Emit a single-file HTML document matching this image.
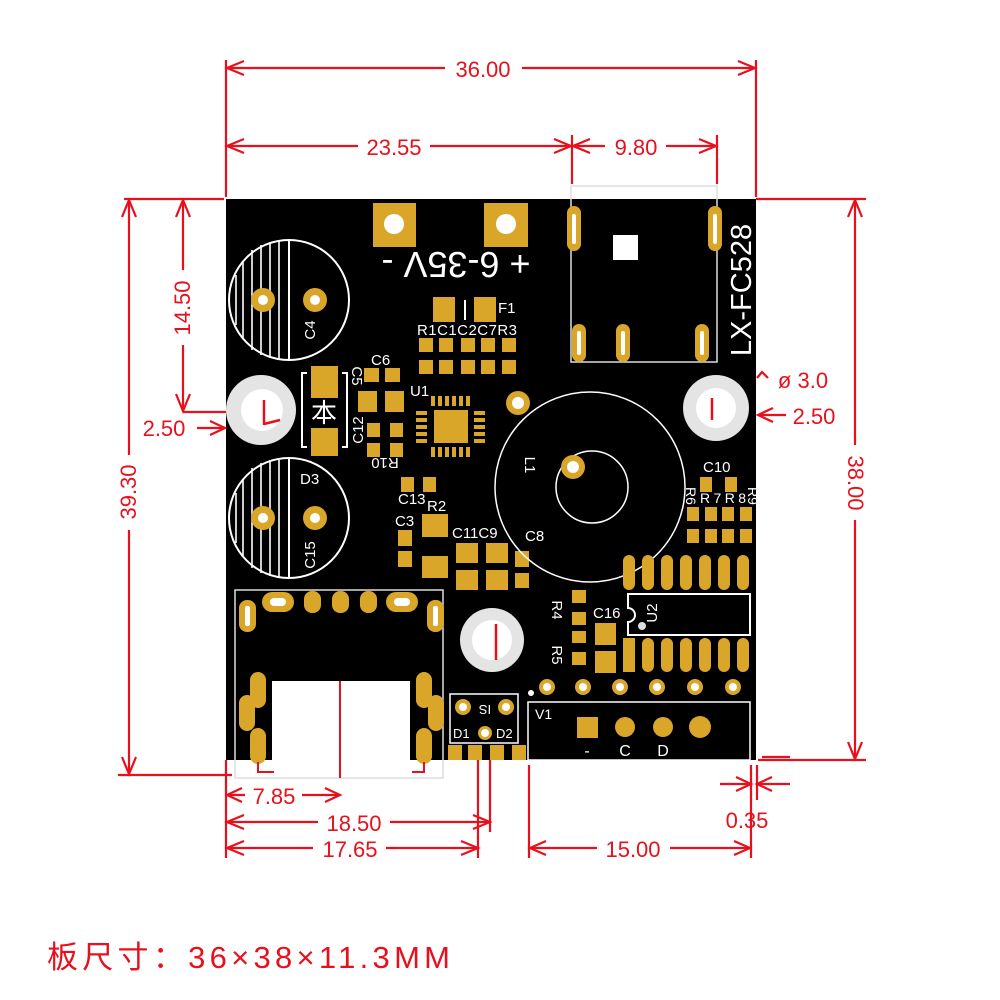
<!DOCTYPE html>
<html><head><meta charset="utf-8"><style>
html,body{margin:0;padding:0;background:#fff;width:1000px;height:1000px;overflow:hidden}
svg{display:block}
.w{fill:#fff;font-family:"Liberation Sans",sans-serif}
.r{fill:#e8101c;font-family:"Liberation Sans",sans-serif}
</style></head><body>
<svg width="1000" height="1000" viewBox="0 0 1000 1000" xmlns="http://www.w3.org/2000/svg">
<!-- board -->
<rect x="226" y="199" width="530" height="561" fill="#000"/>
<rect x="272" y="681" width="138" height="80" fill="#fff"/>
<rect x="235" y="590" width="208" height="188" fill="none" stroke="#ddd" stroke-width="1.5"/>
<line x1="340" y1="681" x2="340" y2="778" stroke="#e8101c" stroke-width="2"/>
<!-- power pads -->
<g fill="#d9a62a"><rect x="373" y="203" width="43" height="44"/><rect x="484" y="203" width="44" height="44"/></g>
<circle cx="394" cy="224" r="10" fill="#fff"/><circle cx="506" cy="224" r="10" fill="#fff"/>
<text class="w" font-size="36" transform="rotate(180 456 265)" x="456" y="278" text-anchor="middle">+ 6-35V -</text>
<!-- C4 / C15 -->
<g fill="none" stroke="#fff" stroke-width="2">
<circle cx="289" cy="300" r="60"/><line x1="289" y1="240" x2="289" y2="360"/>
<circle cx="289" cy="518" r="60"/><line x1="289" y1="458" x2="289" y2="578"/>
</g>
<g stroke="#fff" stroke-width="1.6">
<line x1="243" y1="262" x2="243" y2="338"/><line x1="252" y1="250" x2="252" y2="350"/><line x1="261" y1="245" x2="261" y2="355"/><line x1="270" y1="242" x2="270" y2="358"/><line x1="279" y1="241" x2="279" y2="359"/><line x1="236" y1="275" x2="236" y2="325"/>
<line x1="243" y1="480" x2="243" y2="556"/><line x1="252" y1="468" x2="252" y2="568"/><line x1="261" y1="463" x2="261" y2="573"/><line x1="270" y1="460" x2="270" y2="576"/><line x1="279" y1="459" x2="279" y2="577"/><line x1="236" y1="493" x2="236" y2="543"/>
</g>
<g fill="#d9a62a"><circle cx="263" cy="300" r="12"/><circle cx="315" cy="300" r="12"/><circle cx="263" cy="518" r="12"/><circle cx="315" cy="518" r="12"/></g>
<g fill="#fff"><circle cx="263" cy="300" r="5"/><circle cx="315" cy="300" r="5"/><circle cx="263" cy="518" r="5"/><circle cx="315" cy="518" r="5"/></g>
<text class="w" font-size="15" transform="rotate(-90 310 330)" x="310" y="335" text-anchor="middle">C4</text>
<text class="w" font-size="15" x="300" y="484">D3</text>
<text class="w" font-size="15" transform="rotate(-90 310 555)" x="310" y="560" text-anchor="middle">C15</text>
<!-- mount holes -->
<g fill="#e4e4e4"><circle cx="261" cy="410" r="35"/><circle cx="716" cy="408" r="33"/><circle cx="492" cy="640" r="32"/></g>
<g fill="#fff"><circle cx="262" cy="410" r="21"/><circle cx="716" cy="408" r="20"/><circle cx="492" cy="640" r="20"/></g>
<g stroke="#e8101c" stroke-width="2.5" fill="none"><line x1="264" y1="400" x2="264" y2="425"/><line x1="264" y1="424" x2="280" y2="420"/><line x1="712" y1="398" x2="712" y2="420"/><line x1="496" y1="624" x2="496" y2="660"/></g>
<!-- diode -->
<g fill="#d9a62a"><rect x="311" y="366" width="27" height="32"/><rect x="311" y="428" width="27" height="28"/></g>
<g stroke="#fff" stroke-width="2" fill="none"><polyline points="307,373 302,373 302,447 307,447"/><polyline points="342,373 347,373 347,447 342,447"/></g>
<text class="w" font-size="26" x="324" y="422" text-anchor="middle" font-family="'Noto Sans CJK SC',sans-serif">本</text>
<!-- small parts -->
<g fill="#d9a62a">
<rect x="433" y="297" width="22" height="25"/><rect x="474" y="297" width="22" height="25"/>
<rect x="419" y="338" width="14" height="14"/><rect x="439" y="338" width="14" height="14"/><rect x="461" y="338" width="14" height="14"/><rect x="481" y="338" width="14" height="14"/><rect x="502" y="338" width="14" height="14"/>
<rect x="419" y="360" width="14" height="14"/><rect x="439" y="360" width="14" height="14"/><rect x="461" y="360" width="14" height="14"/><rect x="481" y="360" width="14" height="14"/><rect x="502" y="360" width="14" height="14"/>
<rect x="364" y="368" width="15" height="14"/><rect x="385" y="368" width="15" height="14"/>
<rect x="358" y="391" width="19" height="21"/><rect x="385" y="391" width="19" height="21"/>
<rect x="367" y="423" width="13" height="14"/><rect x="390" y="423" width="13" height="14"/>
<rect x="367" y="443" width="13" height="14"/><rect x="390" y="443" width="13" height="14"/>
<rect x="401" y="477" width="13" height="15"/><rect x="423" y="477" width="13" height="15"/>
<rect x="422" y="514" width="26" height="23"/><rect x="422" y="556" width="26" height="22"/>
<rect x="398" y="530" width="14" height="16"/><rect x="398" y="551" width="14" height="16"/>
<rect x="456" y="543" width="22" height="20"/><rect x="456" y="570" width="22" height="20"/>
<rect x="486" y="543" width="22" height="20"/><rect x="486" y="570" width="22" height="20"/>
<rect x="515" y="551" width="14" height="16"/><rect x="515" y="573" width="14" height="15"/>
<rect x="434" y="410" width="34" height="33"/>
</g>
<line x1="465" y1="300" x2="465" y2="320" stroke="#fff" stroke-width="2"/>
<g fill="#d9a62a">
<rect x="431" y="396" width="4" height="10"/><rect x="438" y="396" width="4" height="10"/><rect x="445" y="396" width="4" height="10"/><rect x="452" y="396" width="4" height="10"/><rect x="459" y="396" width="4" height="10"/><rect x="466" y="396" width="4" height="10"/>
<rect x="431" y="447" width="4" height="10"/><rect x="438" y="447" width="4" height="10"/><rect x="445" y="447" width="4" height="10"/><rect x="452" y="447" width="4" height="10"/><rect x="459" y="447" width="4" height="10"/><rect x="466" y="447" width="4" height="10"/>
<rect x="416" y="411" width="11" height="4"/><rect x="416" y="418" width="11" height="4"/><rect x="416" y="425" width="11" height="4"/><rect x="416" y="432" width="11" height="4"/><rect x="416" y="439" width="11" height="4"/>
<rect x="474" y="411" width="11" height="4"/><rect x="474" y="418" width="11" height="4"/><rect x="474" y="425" width="11" height="4"/><rect x="474" y="432" width="11" height="4"/><rect x="474" y="439" width="11" height="4"/>
</g>
<text class="w" font-size="15" x="498" y="313">F1</text>
<text class="w" font-size="15" x="417" y="335" textLength="100">R1C1C2C7R3</text>
<text class="w" font-size="15" x="371" y="365">C6</text>
<text class="w" font-size="15" transform="rotate(90 357 376)" x="357" y="381" text-anchor="middle">C5</text>
<text class="w" font-size="15" transform="rotate(-90 358 430)" x="358" y="435" text-anchor="middle">C12</text>
<text class="w" font-size="15" transform="rotate(180 385 463)" x="385" y="468" text-anchor="middle">R10</text>
<text class="w" font-size="15" x="410" y="396">U1</text>
<text class="w" font-size="15" x="398" y="504">C13</text>
<text class="w" font-size="15" x="427" y="511">R2</text>
<text class="w" font-size="15" x="395" y="526">C3</text>
<text class="w" font-size="15" x="452" y="538">C11C9</text>
<text class="w" font-size="15" x="525" y="541">C8</text>
<!-- USB -->
<rect x="571" y="186" width="146" height="176" fill="none" stroke="#ddd" stroke-width="1.5"/>
<g fill="#d9a62a"><rect x="567" y="206" width="14" height="45" rx="7"/><rect x="708" y="206" width="14" height="45" rx="7"/><rect x="572" y="324" width="14" height="38" rx="7"/><rect x="616" y="324" width="14" height="38" rx="7"/><rect x="695" y="324" width="14" height="38" rx="7"/></g>
<g fill="#fff"><rect x="572" y="214" width="4" height="30" rx="2"/><rect x="713" y="214" width="4" height="30" rx="2"/><rect x="577" y="331" width="4" height="24" rx="2"/><rect x="621" y="331" width="4" height="24" rx="2"/><rect x="700" y="331" width="4" height="24" rx="2"/><rect x="613" y="235" width="25" height="25"/></g>
<text class="w" font-size="29" transform="rotate(-90 741 290)" x="741" y="300" text-anchor="middle">LX-FC528</text>
<!-- L1 -->
<g fill="none" stroke="#fff" stroke-width="1.5"><circle cx="590" cy="487" r="95"/><circle cx="592" cy="487" r="36"/></g>
<circle cx="573" cy="467" r="12" fill="#d9a62a"/><circle cx="573" cy="467" r="6" fill="#fff"/>
<circle cx="518" cy="403" r="12" fill="#d9a62a"/><circle cx="518" cy="403" r="6" fill="#fff"/>
<text class="w" font-size="15" transform="rotate(90 530 465)" x="530" y="470" text-anchor="middle">L1</text>
<!-- R6-R9 -->
<g fill="#d9a62a">
<rect x="700" y="477" width="12" height="15"/><rect x="725" y="477" width="12" height="15"/>
<rect x="687" y="507" width="12" height="14"/><rect x="705" y="507" width="12" height="14"/><rect x="722" y="507" width="12" height="14"/><rect x="740" y="507" width="12" height="14"/>
<rect x="687" y="529" width="12" height="14"/><rect x="705" y="529" width="12" height="14"/><rect x="722" y="529" width="12" height="14"/><rect x="740" y="529" width="12" height="14"/>
</g>
<text class="w" font-size="15" x="703" y="472">C10</text>
<text class="w" font-size="14" x="700" y="503" textLength="46">R7R8</text>
<text class="w" font-size="14" transform="rotate(90 690 496)" x="690" y="500" text-anchor="middle">R6</text>
<text class="w" font-size="14" transform="rotate(90 752 496)" x="752" y="500" text-anchor="middle">R9</text>
<!-- U2 -->
<g fill="#d9a62a">
<rect x="623" y="555" width="12" height="35" rx="6"/><rect x="642" y="555" width="12" height="35" rx="6"/><rect x="661" y="555" width="12" height="35" rx="6"/><rect x="680" y="555" width="12" height="35" rx="6"/><rect x="699" y="555" width="12" height="35" rx="6"/><rect x="718" y="555" width="12" height="35" rx="6"/><rect x="737" y="555" width="12" height="35" rx="6"/>
<rect x="623" y="638" width="12" height="34"/><rect x="642" y="638" width="12" height="34" rx="6"/><rect x="661" y="638" width="12" height="34" rx="6"/><rect x="680" y="638" width="12" height="34" rx="6"/><rect x="699" y="638" width="12" height="34" rx="6"/><rect x="718" y="638" width="12" height="34" rx="6"/><rect x="737" y="638" width="12" height="34" rx="6"/>
<rect x="572" y="590" width="14" height="13"/><rect x="572" y="612" width="14" height="13"/><rect x="572" y="631" width="14" height="12"/><rect x="572" y="652" width="14" height="13"/>
<rect x="595" y="623" width="21" height="22"/><rect x="595" y="651" width="21" height="22"/>
</g>
<path d="M628,594 H750 V635 H628 V622 A6,6 0 0 0 628,608 Z" fill="none" stroke="#fff" stroke-width="2"/>
<circle cx="642" cy="626" r="4" fill="#ddd"/>
<text class="w" font-size="15" transform="rotate(-90 652 613)" x="652" y="618" text-anchor="middle">U2</text>
<text class="w" font-size="15" x="593" y="618">C16</text>
<text class="w" font-size="15" transform="rotate(90 557 610)" x="557" y="615" text-anchor="middle">R4</text>
<text class="w" font-size="15" transform="rotate(90 557 655)" x="557" y="660" text-anchor="middle">R5</text>
<!-- bottom row -->
<g fill="#d9a62a"><circle cx="547" cy="687" r="8"/><circle cx="583" cy="687" r="8"/><circle cx="620" cy="687" r="8"/><circle cx="657" cy="687" r="8"/><circle cx="695" cy="687" r="8"/><circle cx="733" cy="687" r="8"/></g>
<g fill="#fff"><circle cx="547" cy="687" r="4"/><circle cx="583" cy="687" r="4"/><circle cx="620" cy="687" r="4"/><circle cx="657" cy="687" r="4"/><circle cx="695" cy="687" r="4"/><circle cx="733" cy="687" r="4"/><circle cx="531" cy="693" r="3"/></g>
<rect x="528" y="702" width="222" height="58" fill="none" stroke="#fff" stroke-width="1.5"/>
<rect x="577" y="717" width="21" height="21" fill="#d9a62a"/>
<g fill="#d9a62a"><circle cx="625" cy="727" r="10"/><circle cx="663" cy="727" r="10"/><circle cx="700" cy="727" r="11"/></g>
<text class="w" font-size="14" x="535" y="719">V1</text>
<text class="w" font-size="16" x="587" y="756" text-anchor="middle">-</text>
<text class="w" font-size="16" x="625" y="756" text-anchor="middle">C</text>
<text class="w" font-size="16" x="663" y="756" text-anchor="middle">D</text>
<!-- SI box -->
<rect x="450" y="694" width="68" height="49" fill="none" stroke="#fff" stroke-width="1.5"/>
<g fill="#d9a62a"><circle cx="463" cy="707" r="8"/><circle cx="506" cy="707" r="8"/><circle cx="485" cy="733" r="7"/>
<rect x="448" y="745" width="14" height="15"/><rect x="468" y="745" width="14" height="15"/><rect x="490" y="745" width="14" height="15"/><rect x="512" y="745" width="14" height="15"/></g>
<g fill="#fff"><circle cx="463" cy="707" r="4"/><circle cx="506" cy="707" r="4"/><circle cx="485" cy="733" r="4"/></g>
<text class="w" font-size="13" transform="rotate(180 485 710)" x="485" y="715" text-anchor="middle">IS</text>
<text class="w" font-size="13" x="453" y="738">D1</text>
<text class="w" font-size="13" x="496" y="738">D2</text>
<!-- connector pads -->
<g fill="#d9a62a">
<rect x="262" y="592" width="32" height="20" rx="10"/><rect x="304" y="591" width="17" height="22" rx="8"/><rect x="332" y="591" width="17" height="22" rx="8"/><rect x="360" y="591" width="17" height="22" rx="8"/><rect x="386" y="592" width="32" height="20" rx="10"/>
<rect x="239" y="600" width="17" height="32" rx="8"/><rect x="427" y="600" width="17" height="32" rx="8"/>
<rect x="250" y="672" width="16" height="36" rx="8"/><rect x="239" y="695" width="16" height="36" rx="8"/><rect x="250" y="728" width="16" height="36" rx="8"/>
<rect x="416" y="672" width="16" height="36" rx="8"/><rect x="428" y="695" width="16" height="36" rx="8"/><rect x="416" y="728" width="16" height="36" rx="8"/>
</g>
<g fill="#fff"><rect x="270" y="598" width="16" height="8" rx="4"/><rect x="394" y="598" width="16" height="8" rx="4"/><rect x="245" y="606" width="5" height="20" rx="2"/><rect x="433" y="606" width="5" height="20" rx="2"/></g>
<g stroke="#e8101c" stroke-width="2" fill="none"><polyline points="258,762 258,772 274,772"/><polyline points="412,772 424,772 424,762"/></g>
<!-- DIMENSIONS -->
<g stroke="#e8101c" stroke-width="2.2" fill="none">
<line x1="226" y1="60" x2="226" y2="197"/><line x1="756" y1="60" x2="756" y2="197"/>
<line x1="226" y1="68" x2="445" y2="68"/><line x1="522" y1="68" x2="756" y2="68"/>
<polyline points="244,61 227,68 244,75"/><polyline points="738,61 755,68 738,75"/>
<line x1="226" y1="146" x2="358" y2="146"/><line x1="430" y1="146" x2="572" y2="146"/>
<polyline points="244,139 227,146 244,153"/><polyline points="554,139 571,146 554,153"/>
<line x1="572" y1="135" x2="572" y2="184"/><line x1="717" y1="135" x2="717" y2="184"/>
<line x1="572" y1="146" x2="605" y2="146"/><line x1="666" y1="146" x2="717" y2="146"/>
<polyline points="590,139 573,146 590,153"/><polyline points="699,139 716,146 699,153"/>
<line x1="124" y1="199" x2="224" y2="199"/><line x1="756" y1="199" x2="866" y2="199"/>
<line x1="129" y1="199" x2="129" y2="455"/><line x1="129" y1="530" x2="129" y2="775"/>
<polyline points="122,217 129,200 136,217"/><polyline points="122,757 129,774 136,757"/>
<line x1="118" y1="775" x2="232" y2="775"/>
<line x1="183" y1="199" x2="183" y2="270"/><line x1="183" y1="345" x2="183" y2="412"/>
<polyline points="176,217 183,200 190,217"/><polyline points="176,394 183,411 190,394"/>
<line x1="183" y1="412" x2="226" y2="412"/>
<line x1="197" y1="428" x2="224" y2="428"/><polyline points="210,421 225,428 210,435"/>
<line x1="855" y1="199" x2="855" y2="445"/><line x1="855" y1="520" x2="855" y2="760"/>
<polyline points="848,217 855,200 862,217"/><polyline points="848,742 855,759 862,742"/>
<line x1="758" y1="760" x2="866" y2="760"/>
<line x1="758" y1="415" x2="786" y2="415"/><polyline points="773,408 758,415 773,422"/>
<polyline points="757,378 762,372 768,378"/>
<line x1="226" y1="760" x2="226" y2="858"/>
<line x1="226" y1="795" x2="245" y2="795"/><line x1="302" y1="795" x2="340" y2="795"/>
<polyline points="242,788 227,795 242,802"/><polyline points="325,788 340,795 325,802"/>
<line x1="226" y1="822" x2="318" y2="822"/><line x1="390" y1="822" x2="490" y2="822"/>
<polyline points="244,815 227,822 244,829"/><polyline points="473,815 490,822 473,829"/>
<line x1="226" y1="848" x2="313" y2="848"/><line x1="386" y1="848" x2="478" y2="848"/>
<polyline points="244,841 227,848 244,855"/><polyline points="461,841 478,848 461,855"/>
<line x1="478" y1="760" x2="478" y2="858"/><line x1="490" y1="760" x2="490" y2="832"/>
<line x1="529" y1="765" x2="529" y2="858"/><line x1="751" y1="765" x2="751" y2="858"/>
<line x1="529" y1="848" x2="597" y2="848"/><line x1="670" y1="848" x2="751" y2="848"/>
<polyline points="546,841 530,848 546,855"/><polyline points="734,841 750,848 734,855"/>
<line x1="757" y1="765" x2="757" y2="800"/>
<line x1="720" y1="784" x2="751" y2="784"/><polyline points="736,777 751,784 736,791"/>
<line x1="757" y1="784" x2="790" y2="784"/><polyline points="772,777 757,784 772,791"/>
<line x1="762" y1="757" x2="790" y2="757"/>
</g>
<g class="r" font-size="22">
<text x="483" y="77" text-anchor="middle" fill="#e8101c">36.00</text>
<text x="394" y="155" text-anchor="middle" fill="#e8101c">23.55</text>
<text x="636" y="155" text-anchor="middle" fill="#e8101c">9.80</text>
<text x="136" y="492" text-anchor="middle" fill="#e8101c" transform="rotate(-90 136 492)">39.30</text>
<text x="190" y="308" text-anchor="middle" fill="#e8101c" transform="rotate(-90 190 308)">14.50</text>
<text x="164" y="436" text-anchor="middle" fill="#e8101c">2.50</text>
<text x="848" y="483" text-anchor="middle" fill="#e8101c" transform="rotate(90 848 483)">38.00</text>
<text x="814" y="424" text-anchor="middle" fill="#e8101c">2.50</text>
<text x="803" y="388" text-anchor="middle" fill="#e8101c">ø 3.0</text>
<text x="274" y="804" text-anchor="middle" fill="#e8101c">7.85</text>
<text x="354" y="831" text-anchor="middle" fill="#e8101c">18.50</text>
<text x="350" y="857" text-anchor="middle" fill="#e8101c">17.65</text>
<text x="633" y="857" text-anchor="middle" fill="#e8101c">15.00</text>
<text x="747" y="828" text-anchor="middle" fill="#e8101c">0.35</text>
</g>
<text x="47" y="968" font-size="31" fill="#e8101c" font-family="'Liberation Sans','Noto Sans CJK SC',sans-serif" textLength="403">板尺寸：36×38×11.3MM</text>
</svg>
</body></html>
